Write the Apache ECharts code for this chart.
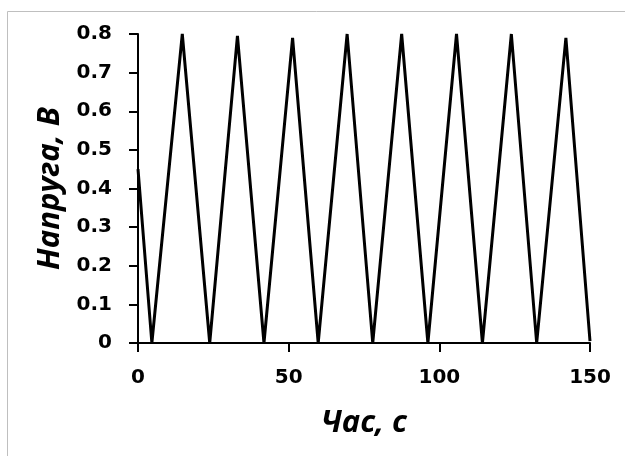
<!DOCTYPE html>
<html>
<head>
<meta charset="utf-8">
<script src="https://cdn.jsdelivr.net/npm/echarts@6/dist/echarts.min.js"></script>
<style>
  html, body { margin: 0; padding: 0; background: #fff; }
  #chart { width: 625px; height: 456px; }
</style>
</head>
<body>
<div id="chart"></div>
<script>
// час, с
var timeValues = [0, 4.6, 14.7, 23.8, 33.0, 41.8, 51.3, 59.8, 69.4, 77.9, 87.5, 96.2, 105.7, 114.3, 123.9, 132.3, 142.0, 150];
// напруга, В
var voltageValues = [0.45, 0, 0.8, 0, 0.795, 0, 0.79, 0, 0.8, 0, 0.8, 0, 0.8, 0, 0.8, 0, 0.79, 0.005];

var xTitle = 'Час, с';
var yTitle = 'Напруга, В';

var chart = echarts.init(document.getElementById('chart'));

var labelFont = {
  color: '#000',
  fontFamily: 'DejaVu Sans',
  fontWeight: 'bold',
  fontSize: 20,
};

var titleFont = {
  color: '#000',
  fontFamily: 'Open Sans',
  fontWeight: 'bold',
  fontStyle: 'italic',
  fontSize: 31,
};

var option = {
  animation: false,
  backgroundColor: '#fff',
  graphic: [
    {
      type: 'rect',
      shape: { x: 7.5, y: 11.5, width: 700, height: 500 },
      style: { fill: 'none', stroke: '#bfbfbf', lineWidth: 1 },
      silent: true,
    },
  ],
  grid: {
    left: 138,
    right: 35,
    top: 34,
    bottom: 113,
  },
  xAxis: {
    type: 'value',
    min: 0,
    max: 150,
    interval: 50,
    name: xTitle,
    nameLocation: 'middle',
    nameGap: 65,
    nameTextStyle: titleFont,
    axisLine: { onZero: false, lineStyle: { color: '#000', width: 2 } },
    axisTick: { show: true, inside: false, length: 9, lineStyle: { color: '#000', width: 2 } },
    axisLabel: Object.assign({ margin: 25 }, labelFont),
    splitLine: { show: false },
  },
  yAxis: {
    type: 'value',
    min: 0,
    max: 0.8,
    interval: 0.1,
    name: yTitle,
    nameLocation: 'middle',
    nameGap: 68,
    nameRotate: 90,
    nameTextStyle: titleFont,
    axisLine: { show: true, onZero: false, lineStyle: { color: '#000', width: 2 } },
    axisTick: { show: true, inside: false, length: 9, lineStyle: { color: '#000', width: 2 } },
    axisLabel: Object.assign({
      margin: 26,
      formatter: function (v) {
        return v === 0 ? '0' : v.toFixed(1);
      },
    }, labelFont),
    splitLine: { show: false },
  },
  series: [
    {
      type: 'line',
      data: timeValues.map(function (t, i) { return [t, voltageValues[i]]; }),
      showSymbol: false,
      symbol: 'none',
      lineStyle: { color: '#000', width: 3, join: 'miter' },
      clip: true,
    },
  ],
};

chart.setOption(option);
</script>
</body>
</html>
